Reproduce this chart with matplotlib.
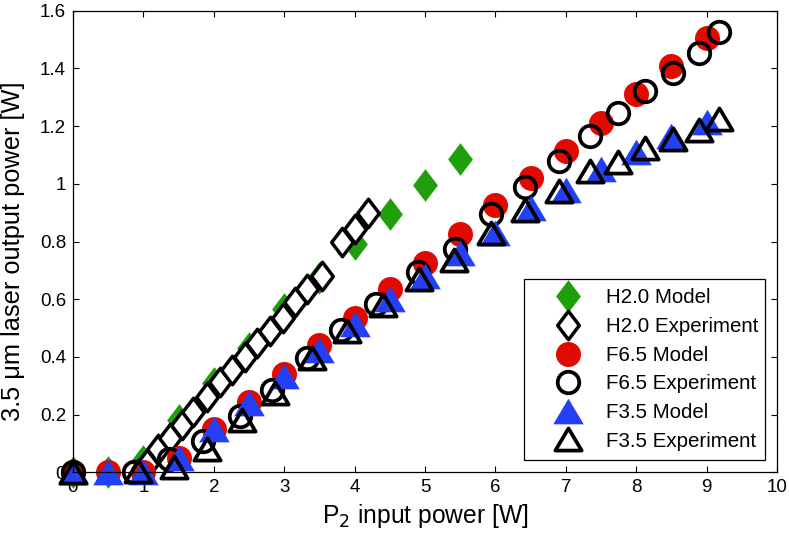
import numpy as np
import matplotlib
matplotlib.use('Agg')
import matplotlib.pyplot as plt
from matplotlib.path import Path

plt.rcParams['font.family'] = ['Liberation Sans', 'DejaVu Sans']

# -------------------------------------------------
# Data
# -------------------------------------------------
h20_model_x = [0, 0.5, 1, 1.5, 2, 2.5, 3, 3.5, 4, 4.5, 5, 5.5]
h20_model_y = [0, 0, 0.04, 0.18, 0.31, 0.43, 0.565, 0.675, 0.79, 0.895, 0.995, 1.085]

h20_exp_x = [1.05, 1.21, 1.38, 1.55, 1.71, 1.90, 2.09, 2.26, 2.44, 2.61,
             2.80, 2.99, 3.15, 3.32, 3.53, 3.82, 4.00, 4.19]
h20_exp_y = [0.03, 0.08, 0.12, 0.165, 0.21, 0.26, 0.315, 0.355, 0.40, 0.45,
             0.49, 0.535, 0.59, 0.635, 0.68, 0.80, 0.845, 0.90]

f65_model_x = [0, 0.5, 1, 1.5, 2, 2.5, 3, 3.5, 4, 4.5, 5, 5.5, 6, 6.5, 7, 7.5, 8, 8.5, 9]
f65_model_y = [0, 0, 0, 0.05, 0.15, 0.245, 0.34, 0.44, 0.535, 0.635, 0.725,
               0.825, 0.925, 1.02, 1.115, 1.21, 1.31, 1.41, 1.505]

f65_exp_x = [0, 0.86, 1.36, 1.85, 2.37, 2.82, 3.32, 3.81, 4.31, 4.90,
             5.42, 5.94, 6.42, 6.90, 7.34, 7.74, 8.12, 8.52, 8.89, 9.18]
f65_exp_y = [0, 0.0, 0.045, 0.11, 0.195, 0.285, 0.395, 0.495, 0.585, 0.695,
             0.775, 0.895, 0.99, 1.08, 1.165, 1.245, 1.32, 1.385, 1.455, 1.525]

f35_model_x = [0, 0.5, 1, 1.5, 2, 2.5, 3, 3.5, 4, 4.5, 5, 5.5, 6, 6.5, 7, 7.5, 8, 8.5, 9]
f35_model_y = [0, 0, 0, 0.05, 0.15, 0.24, 0.335, 0.425, 0.515, 0.6, 0.68,
               0.76, 0.83, 0.915, 0.98, 1.05, 1.11, 1.165, 1.215]

f35_exp_x = [0, 0.93, 1.43, 1.90, 2.40, 2.87, 3.39, 3.89, 4.41, 4.92,
             5.41, 5.94, 6.42, 6.91, 7.35, 7.74, 8.12, 8.52, 8.89, 9.18]
f35_exp_y = [0, 0.005, 0.02, 0.08, 0.18, 0.275, 0.395, 0.49, 0.58, 0.67,
             0.735, 0.83, 0.91, 0.975, 1.045, 1.075, 1.125, 1.155, 1.185, 1.225]

x_ticks = [0, 1, 2, 3, 4, 5, 6, 7, 8, 9, 10]
y_ticks = [0, 0.2, 0.4, 0.6, 0.8, 1.0, 1.2, 1.4, 1.6]
y_tick_labels = ['0', '0.2', '0.4', '0.6', '0.8', '1', '1.2', '1.4', '1.6']

# MATLAB-style markers: tall diamond, wide triangle
diamond = Path([(0, 1), (0.76, 0), (0, -1), (-0.76, 0), (0, 1)],
               [Path.MOVETO, Path.LINETO, Path.LINETO, Path.LINETO, Path.CLOSEPOLY])
triangle = Path([(0, 0.84), (-1, -0.84), (1, -0.84), (0, 0.84)],
                [Path.MOVETO, Path.LINETO, Path.LINETO, Path.CLOSEPOLY])

# -------------------------------------------------
# Plot
# -------------------------------------------------
fig = plt.figure(figsize=(7.89, 5.45), dpi=100)
ax = fig.add_axes([0.0925, 0.1332, 0.8923, 0.8472])

common = dict(linestyle='none', clip_on=False)
ax.plot(h20_model_x, h20_model_y, marker=diamond, ms=23.5,
        color='#1fa00a', mec='none', label='H2.0 Model', **common)
ax.plot(h20_exp_x, h20_exp_y, marker=diamond, ms=20.5,
        mfc='white', mec='black', mew=2.5, label='H2.0 Experiment', **common)
ax.plot(f65_model_x, f65_model_y, marker='o', ms=18,
        color='#e00a00', mec='none', label='F6.5 Model', **common)
ax.plot(f65_exp_x, f65_exp_y, marker='o', ms=15.5,
        mfc='none', mec='black', mew=2.7, label='F6.5 Experiment', **common)
ax.plot(f35_model_x, f35_model_y, marker=triangle, ms=22,
        color='#2340f5', mec='none', label='F3.5 Model', **common)
ax.plot(f35_exp_x, f35_exp_y, marker=triangle, ms=19,
        mfc='none', mec='black', mew=2.7, label='F3.5 Experiment', **common)

ax.set_xlim(0, 10)
ax.set_ylim(0, 1.6)
ax.set_xticks(x_ticks)
ax.set_yticks(y_ticks)
ax.set_yticklabels(y_tick_labels)
ax.tick_params(direction='in', length=4.5, width=0.8, labelsize=13.5,
               top=True, right=True, pad=5)
for s in ax.spines.values():
    s.set_linewidth(0.9)

ax.set_xlabel('P$_2$ input power [W]', fontsize=17.7, labelpad=4)
ax.set_ylabel('3.5 \u03bcm laser output power [W]', fontsize=18.3)
ax.yaxis.set_label_coords(-0.068, 0.48)

leg = ax.legend(loc='lower left', bbox_to_anchor=(0.640, 0.027, 0.343, 0.391),
                mode='expand', fontsize=14.8, fancybox=False, framealpha=1,
                edgecolor='black', handlelength=3.4, handletextpad=0.15,
                labelspacing=0.47, borderpad=0.45, borderaxespad=0)
leg.get_frame().set_linewidth(0.9)

fig.savefig('out.png', dpi=100)
